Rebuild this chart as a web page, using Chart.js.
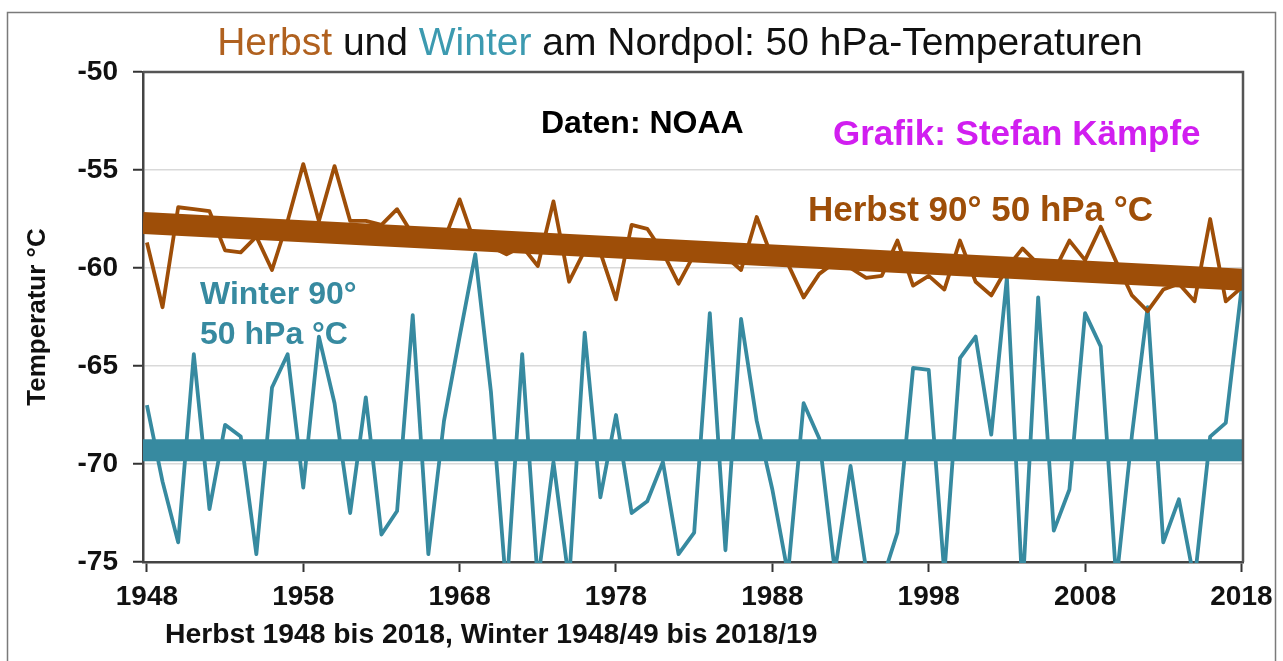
<!DOCTYPE html>
<html>
<head>
<meta charset="utf-8">
<script src="https://cdn.jsdelivr.net/npm/chart.js@4.4.1/dist/chart.umd.min.js"></script>
<style>
    html, body { margin: 0; padding: 0; background: #fff; }
    #wrap { width: 1283px; height: 661px; position: relative; }
</style>
</head>
<body>
<div id="wrap"><canvas id="polarChart"></canvas></div>
<script>
//----------------------------- Data -----------------------------------
// Daten: NOAA, 50 hPa, 90° N
const years = [];
for (let y = 1948; y <= 2018; y++) years.push(y);

const herbstValues = [
    -58.7, -62.0, -56.9, -57.0, -57.1, -59.1, -59.2, -58.4, -60.1, -57.6,
    -54.7, -57.6, -54.8, -57.6, -57.6, -57.8, -57.0, -58.3, -58.5, -58.6,
    -56.5, -58.8, -58.9, -59.3, -58.9, -59.9, -56.6, -60.7, -59.1, -59.2,
    -61.6, -57.8, -58.0, -59.2, -60.8, -59.3, -59.2, -59.4, -60.1, -57.4,
    -59.5, -59.8, -61.5, -60.3, -59.7, -60.0, -60.5, -60.4, -58.6, -60.9,
    -60.4, -61.1, -58.6, -60.7, -61.4, -60.0, -59.0, -59.8, -60.2, -58.6,
    -59.6, -57.9, -59.7, -61.4, -62.2, -61.1, -60.8, -61.7, -57.5, -61.7,
    -61.0
];

const winterValues = [
    -67.0, -70.9, -74.0, -64.4, -72.3, -68.0, -68.6, -74.6, -66.1, -64.4,
    -71.2, -63.5, -66.9, -72.5, -66.6, -73.6, -72.4, -62.4, -74.6, -67.8,
    -63.5, -59.3, -66.3, -76.5, -64.4, -76.0, -69.9, -76.0, -63.3, -71.7,
    -67.5, -72.5, -71.9, -69.9, -74.6, -73.5, -62.3, -74.4, -62.6, -67.8,
    -71.3, -75.6, -66.9, -68.7, -75.5, -70.1, -75.4, -76.0, -73.5, -65.1,
    -65.2, -75.6, -64.6, -63.5, -68.5, -60.5, -76.5, -61.5, -73.4, -71.3,
    -62.3, -64.0, -76.0, -68.5, -62.0, -74.0, -71.8, -76.0, -68.6, -67.9,
    -61.1
];

// x range of the plot (a little wider than the data years)
const xMin = 1947.75;
const xMax = 2018.1;

// linear trends, start and end value
const trendYears = [xMin, xMax];
const herbstTrend = [-57.7, -60.6];
const winterTrend = [-69.3, -69.3];

const xTickYears = [1948, 1958, 1968, 1978, 1988, 1998, 2008, 2018];
const yTicks = [-50, -55, -60, -65, -70, -75];

//----------------------------- Colors -----------------------------------
const brown = '#9e4e08';
const teal = '#378aa0';
const fontFamily = '"Liberation Sans", Arial, sans-serif';

function toPoints(values) {
    return values.map((v, i) => ({ x: years[i], y: v }));
}
function trendPoints(trend) {
    return trend.map((v, i) => ({ x: trendYears[i], y: v }));
}

//----------------------------- Texts plugin -----------------------------------
const textPlugin = {
    id: 'texts',
    beforeDraw(chart) {
        const ctx = chart.ctx;
        ctx.save();
        ctx.fillStyle = '#fff';
        ctx.fillRect(0, 0, chart.width, chart.height);
        ctx.strokeStyle = '#7a7a7a';
        ctx.lineWidth = 1.5;
        ctx.strokeRect(7.5, 12.5, 1268, 700);
        ctx.restore();
    },
    afterDraw(chart) {
        const ctx = chart.ctx;
        const area = chart.chartArea;
        ctx.save();

        // plot frame top and right
        ctx.strokeStyle = '#555';
        ctx.lineWidth = 2.5;
        ctx.beginPath();
        ctx.moveTo(area.left, area.top);
        ctx.lineTo(area.right, area.top);
        ctx.lineTo(area.right, area.bottom);
        ctx.stroke();

        // title in several colours
        ctx.textBaseline = 'alphabetic';
        ctx.textAlign = 'left';
        ctx.font = '39px ' + fontFamily;
        const parts = [
            ['Herbst', '#b0611f'],
            [' und ', '#111'],
            ['Winter', '#3c9ab0'],
            [' am Nordpol: 50 hPa-Temperaturen', '#111']
        ];
        const total = parts.reduce((s, p) => s + ctx.measureText(p[0]).width, 0);
        let x = 680 - total / 2;
        parts.forEach(p => {
            ctx.fillStyle = p[1];
            ctx.fillText(p[0], x, 55);
            x += ctx.measureText(p[0]).width;
        });

        ctx.font = 'bold 32px ' + fontFamily;
        ctx.fillStyle = '#000';
        ctx.fillText('Daten: NOAA', 541, 133);

        ctx.font = 'bold 35px ' + fontFamily;
        ctx.fillStyle = '#d11ef0';
        ctx.fillText('Grafik: Stefan Kämpfe', 833, 145);

        ctx.fillStyle = brown;
        ctx.fillText('Herbst 90° 50 hPa °C', 808, 221);

        ctx.font = 'bold 32px ' + fontFamily;
        ctx.fillStyle = teal;
        ctx.fillText('Winter 90°', 200, 304);
        ctx.fillText('50 hPa °C', 200, 344);

        ctx.font = 'bold 28.3px ' + fontFamily;
        ctx.fillStyle = '#111';
        ctx.fillText('Herbst 1948 bis 2018, Winter 1948/49 bis 2018/19', 165, 643);

        ctx.restore();
    }
};

//----------------------------- Chart -----------------------------------
const ctx = document.getElementById('polarChart');
const config = {
    type: 'line',
    data: {
        datasets: [
            {
                label: 'Herbst Trend',
                data: trendPoints(herbstTrend),
                borderColor: brown,
                borderWidth: 22,
                pointRadius: 0,
                order: 0
            },
            {
                label: 'Winter Trend',
                data: trendPoints(winterTrend),
                borderColor: teal,
                borderWidth: 22,
                pointRadius: 0,
                order: 1
            },
            {
                label: 'Herbst 90° 50 hPa °C',
                data: toPoints(herbstValues),
                borderColor: brown,
                borderWidth: 3.8,
                borderJoinStyle: 'round',
                pointRadius: 0,
                tension: 0,
                clip: 1,
                order: 2
            },
            {
                label: 'Winter 90° 50 hPa °C',
                data: toPoints(winterValues),
                borderColor: teal,
                borderWidth: 3.8,
                borderJoinStyle: 'round',
                pointRadius: 0,
                tension: 0,
                clip: 1,
                order: 3
            }
        ]
    },
    options: {
        responsive: true,
        maintainAspectRatio: false,
        animation: false,
        layout: {
            padding: { left: 0, top: 72, right: 40, bottom: 0 }
        },
        plugins: {
            legend: { display: false },
            tooltip: { enabled: false },
            title: { display: false }
        },
        scales: {
            x: {
                type: 'linear',
                min: xMin,
                max: xMax,
                afterBuildTicks: scale => {
                    scale.ticks = xTickYears.map(v => ({ value: v }));
                },
                afterFit: scale => { scale.height = 99; },
                grid: {
                    drawOnChartArea: false,
                    drawTicks: true,
                    tickLength: 10,
                    tickColor: '#333',
                    tickWidth: 2
                },
                border: { display: true, color: '#444', width: 2.5 },
                ticks: {
                    color: '#111',
                    padding: 8,
                    maxRotation: 0,
                    font: { family: fontFamily, size: 28, weight: 'bold' },
                    callback: v => String(v)
                }
            },
            y: {
                min: -75,
                max: -50,
                afterBuildTicks: scale => {
                    scale.ticks = yTicks.map(v => ({ value: v }));
                },
                afterFit: scale => { scale.width = 143; },
                grid: {
                    color: c => (c.tick && (c.tick.value === -50 || c.tick.value === -75)) ? 'rgba(0,0,0,0)' : '#d9d9d9',
                    lineWidth: 1.5,
                    tickLength: 10,
                    tickColor: '#333',
                    tickWidth: 2
                },
                border: { display: true, color: '#444', width: 2.5 },
                title: {
                    display: true,
                    text: 'Temperatur °C',
                    color: '#111',
                    padding: 22,
                    font: { family: fontFamily, size: 26, weight: 'bold' }
                },
                ticks: {
                    color: '#111',
                    padding: 15,
                    font: { family: fontFamily, size: 28, weight: 'bold' }
                }
            }
        }
    },
    plugins: [textPlugin]
};
window.polarChartInstance = new Chart(ctx, config);
</script>
</body>
</html>
